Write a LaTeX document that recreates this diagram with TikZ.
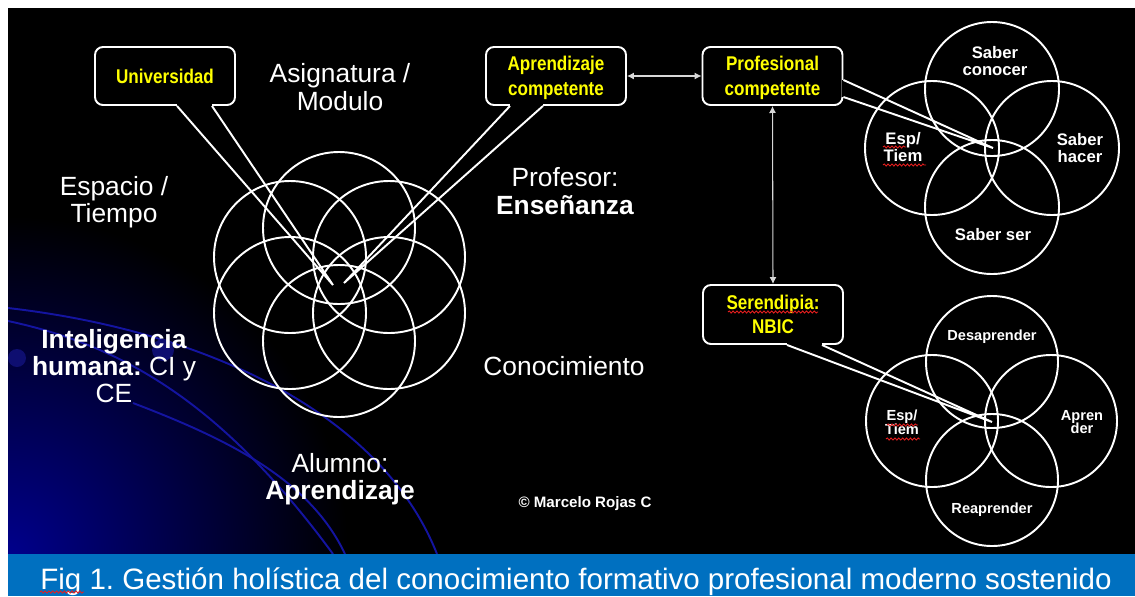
\documentclass[tikz,border=0pt]{standalone}
\usepackage{fontspec}
\setmainfont{Liberation Sans}
\newfontfamily\boxfont[FakeStretch=0.86]{Liberation Sans}
\usetikzlibrary{arrows.meta,calc,decorations.pathmorphing}
\definecolor{capblue}{RGB}{0,112,192}
\definecolor{boxyellow}{RGB}{255,255,0}
\definecolor{swirl}{RGB}{20,20,160}
\definecolor{deepnavy}{RGB}{0,0,140}
\definecolor{arrowgray}{RGB}{215,215,215}
\definecolor{spellred}{RGB}{230,30,30}
\frenchspacing

\begin{document}
\begin{tikzpicture}[x=0.02cm,y=-0.02cm,
    ring/.style={white,line width=1.1pt},
    callbox/.style={draw=white,line width=1.1pt,fill=black,rounded corners=4.5pt,
      minimum width=2.8cm,minimum height=1.16cm,inner sep=0pt,align=center,text depth=0pt,
      text=boxyellow,font=\boxfont\bfseries\fontsize{11.3}{13.9}\selectfont},
    pointer/.style={white,line width=1.1pt},
    lbl/.style={white,inner sep=0pt,align=center,font=\fontsize{15}{15.6}\selectfont},
    vennlbl/.style={white,inner sep=0pt,align=center,font=\bfseries\fontsize{9.5}{10.2}\selectfont},
    smallvenn/.style={white,inner sep=0pt,align=center,font=\bfseries\fontsize{8.3}{7.9}\selectfont},
    dblarrow/.style={arrowgray,line width=0.6pt,{Latex[length=4pt,width=4pt]}-{Latex[length=4pt,width=4pt]}},
    squiggle/.style={spellred,line width=0.5pt,decorate,
      decoration={snake,amplitude=0.6pt,segment length=2.2pt}}]
  \useasboundingbox (0,0) rectangle (1135,596);
  \fill[white] (0,0) rectangle (1135,596);
  \fill[black] (8,8) rectangle (1135,554);
  % blue glow and swirls, lower left
  \begin{scope}
    \clip (8,8) rectangle (1135,554);
    \shade[inner color=deepnavy,outer color=black] (8,556) circle (340);
    \draw[swirl,line width=1.1pt] (8,308) .. controls (200,330) and (380,410) .. (437,554);
    \draw[swirl,line width=1.1pt] (8,321) .. controls (120,345) and (220,400) .. (333,554);
    \draw[swirl,line width=1.1pt] (133,403) .. controls (230,440) and (310,480) .. (345,554);
    \fill[swirl!70!black] (17,358) circle (9);
    \fill[swirl!70!black] (163,350) circle (11);
  \end{scope}

  % callout boxes
  \node[callbox] (univ) at (165,76) {Universidad};
  \node[callbox] (aprcomp) at (556,76) {Aprendizaje\\competente};
  \node[callbox] (profcomp) at (772.5,76) {Profesional\\competente};
  \node[callbox,minimum height=1.18cm] (seren) at (773,314.5) {Serendipia:\\NBIC};
  \coordinate (univtip) at (333,285);
  \coordinate (aprtip) at (344,283);
  \coordinate (proftip) at (993,148);
  \coordinate (serentip) at (992,422);

  % six central rings
  \foreach \cx/\cy in {339/228,290/257,389/257,290/313,389/313,339/341}
    \draw[ring] (\cx,\cy) circle (76);
  % two four-ring venns
  \foreach \cx/\cy in {992/89,932/148,1052/148,992/207}
    \draw[ring] (\cx,\cy) circle (67);
  \foreach \cx/\cy in {992/362,932/421,1051/421,992/480}
    \draw[ring] (\cx,\cy) circle (66);

  % pointers
  \draw[black,line width=2pt] ($(univ.south)+(12,0)$) -- ($(univ.south)+(47,0)$);
  \draw[pointer] ($(univ.south)+(12,0)$) -- (univtip) -- ($(univ.south)+(47,0)$);
  \draw[black,line width=2pt] ($(aprcomp.south)+(-46,0)$) -- ($(aprcomp.south)+(-13,0)$);
  \draw[pointer] ($(aprcomp.south)+(-46,0)$) -- (aprtip) -- ($(aprcomp.south)+(-13,0)$);
  \draw[black,line width=2pt] ($(profcomp.east)+(0,4)$) -- ($(profcomp.east)+(0,21)$);
  \draw[pointer] ($(profcomp.east)+(0,4)$) -- (proftip) -- ($(profcomp.east)+(0,21)$);
  \draw[black,line width=2pt] ($(seren.south)+(14,0)$) -- ($(seren.south)+(49,0)$);
  \draw[pointer] ($(seren.south)+(14,0)$) -- (serentip) -- ($(seren.south)+(49,0)$);

  \draw[dblarrow] (aprcomp.east) -- (profcomp.west);
  \draw[dblarrow] (profcomp.south) -- (seren.north);

  % labels
  \node[lbl] (asig) at (340,87) {Asignatura /\\Modulo};
  \node[lbl] (espacio) at (114,202) {Espacio /\\Tiempo};
  \node[lbl] (profesor) at (565,191) {Profesor:\\\textbf{Enseñanza}};
  \node[lbl,anchor=base] (conoc) at (564,375) {Conocimiento};
  \node[lbl] (intel) at (114,366) {\textbf{Inteligencia}\\\textbf{humana:} CI y\\CE};
  \node[lbl] (alumno) at (340,479) {Alumno:\\\textbf{Aprendizaje}};
  \node[white,anchor=base,inner sep=0pt,font=\bfseries\fontsize{8.6}{10}\selectfont] (autor)
    at (585,507) {© Marcelo Rojas C};

  \node[vennlbl] (saberco) at (995,61) {Saber\\conocer};
  \node[vennlbl] (esptop) at (903,147) {Esp/\\Tiem};
  \node[vennlbl] (saberha) at (1080,148) {Saber\\hacer};
  \node[vennlbl,anchor=base] (saberser) at (993,240) {Saber ser};
  \node[smallvenn,anchor=base] (desap) at (992,340) {Desaprender};
  \node[smallvenn] (espbot) at (902,422) {Esp/\\Tiem};
  \node[smallvenn] (apren) at (1082,422) {Apren\\der};
  \node[smallvenn,anchor=base] (reap) at (992,513) {Reaprender};

  % caption band
  \fill[capblue] (8,554) rectangle (1135,596);
  \node[white,anchor=base west,inner sep=0pt,font=\fontsize{16.8}{20}\selectfont] (caption)
    at (40,589) {Fig 1. Gestión holística del conocimiento formativo profesional moderno sostenido};

  % spell-check marks
  \draw[squiggle] (40,592) -- (84,592);
  \draw[squiggle] (883,147) -- (906,147);
  \draw[squiggle] (883,165) -- (926,165);
  \draw[squiggle] (728,312) -- (818,312);
  \draw[squiggle] (887,425) -- (918,425);
  \draw[squiggle] (886,439) -- (920,439);
\end{tikzpicture}
\end{document}
